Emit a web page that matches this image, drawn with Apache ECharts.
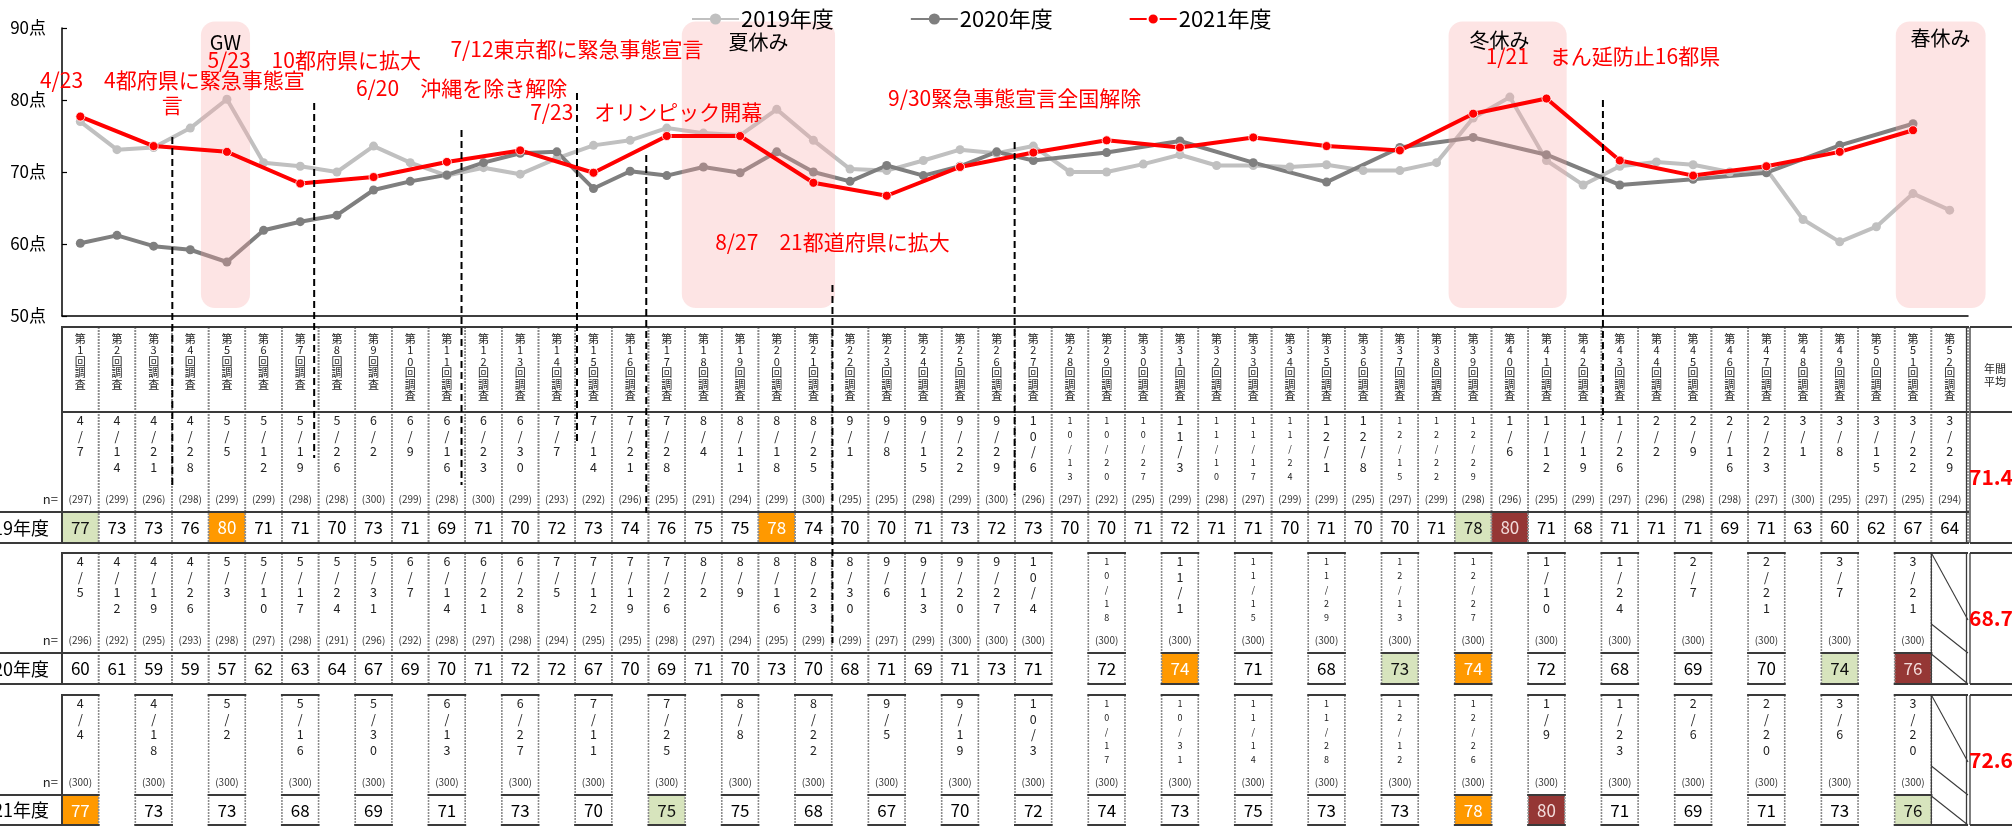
<!DOCTYPE html>
<html><head><meta charset="utf-8">
<script src="https://cdn.jsdelivr.net/npm/echarts@6/dist/echarts.min.js"></script>
<style>html,body{margin:0;padding:0;background:#fff;overflow:hidden}#c{width:2012px;height:827px}</style>
</head><body><div id="c"></div>
<script>
// ---------------- DATA ----------------
const surveyNos = [1,2,3,4,5,6,7,8,9,10,11,12,13,14,15,16,17,18,19,20,21,22,23,24,25,26,27,28,29,30,31,32,33,34,35,36,37,38,39,40,41,42,43,44,45,46,47,48,49,50,51,52];
const categories = surveyNos.map(n => '第' + n + '回調査');
const seriesNames = ['2019年度', '2020年度', '2021年度'];
const yTicks = [50, 60, 70, 80, 90];

const dates2019 = ['4/7','4/14','4/21','4/28','5/5','5/12','5/19','5/26','6/2','6/9',
  '6/16','6/23','6/30','7/7','7/14','7/21','7/28','8/4','8/11','8/18',
  '8/25','9/1','9/8','9/15','9/22','9/29','10/6','10/13','10/20','10/27',
  '11/3','11/10','11/17','11/24','12/1','12/8','12/15','12/22','12/29','1/6',
  '1/12','1/19','1/26','2/2','2/9','2/16','2/23','3/1','3/8','3/15',
  '3/22','3/29'];
const n2019 = [297,299,296,298,299,299,298,298,300,299,
  298,300,299,293,292,296,295,291,294,299,
  300,295,295,298,299,300,296,297,292,295,
  299,298,297,299,299,295,297,299,298,296,
  295,299,297,296,298,298,297,300,295,297,
  295,294];
const table2019 = [77,73,73,76,80,71,71,70,73,71,
  69,71,70,72,73,74,76,75,75,78,
  74,70,70,71,73,72,73,70,70,71,
  72,71,71,70,71,70,70,71,78,80,
  71,68,71,71,71,69,71,63,60,62,
  67,64];
const line2019 = [77.0,73.1,73.4,76.1,80.1,71.3,70.8,70.0,73.6,71.3,
  69.5,70.6,69.7,71.9,73.7,74.4,76.1,75.4,75.1,78.7,
  74.4,70.4,70.2,71.6,73.1,72.6,73.6,70.0,70.0,71.1,
  72.4,70.9,70.9,70.7,71.0,70.2,70.2,71.3,77.5,80.4,
  71.6,68.2,70.8,71.4,71.0,70.0,70.4,63.4,60.3,62.4,
  67.0,64.7];
const marks2019 = {0:'3rd', 4:'2nd', 19:'2nd', 38:'3rd', 39:'1st'};

const dates2020 = ['4/5','4/12','4/19','4/26','5/3','5/10','5/17','5/24','5/31','6/7',
  '6/14','6/21','6/28','7/5','7/12','7/19','7/26','8/2','8/9','8/16',
  '8/23','8/30','9/6','9/13','9/20','9/27','10/4',null,'10/18',null,
  '11/1',null,'11/15',null,'11/29',null,'12/13',null,'12/27',null,
  '1/10',null,'1/24',null,'2/7',null,'2/21',null,'3/7',null,
  '3/21',null];
const n2020 = [296,292,295,293,298,297,298,291,296,292,
  298,297,298,294,295,295,298,297,294,295,
  299,299,297,299,300,300,300,null,300,null,
  300,null,300,null,300,null,300,null,300,null,
  300,null,300,null,300,null,300,null,300,null,
  300,null];
const table2020 = [60,61,59,59,57,62,63,64,67,69,
  70,71,72,72,67,70,69,71,70,73,
  70,68,71,69,71,73,71,null,72,null,
  74,null,71,null,68,null,73,null,74,null,
  72,null,68,null,69,null,70,null,74,null,
  76,null];
const line2020 = [60.1,61.2,59.7,59.2,57.5,61.9,63.1,64.0,67.5,68.7,
  69.6,71.3,72.6,72.8,67.7,70.1,69.5,70.7,69.9,72.8,
  70.0,68.7,70.9,69.5,70.8,72.8,71.6,null,72.7,null,
  74.3,null,71.3,null,68.6,null,73.4,null,74.8,null,
  72.4,null,68.2,null,69.0,null,69.9,null,73.7,null,
  76.7,null];
const marks2020 = {30:'2nd', 36:'3rd', 38:'2nd', 48:'3rd', 50:'1st'};

const dates2021 = ['4/4',null,'4/18',null,'5/2',null,'5/16',null,'5/30',null,
  '6/13',null,'6/27',null,'7/11',null,'7/25',null,'8/8',null,
  '8/22',null,'9/5',null,'9/19',null,'10/3',null,'10/17',null,
  '10/31',null,'11/14',null,'11/28',null,'12/12',null,'12/26',null,
  '1/9',null,'1/23',null,'2/6',null,'2/20',null,'3/6',null,
  '3/20',null];
const n2021 = [300,null,300,null,300,null,300,null,300,null,
  300,null,300,null,300,null,300,null,300,null,
  300,null,300,null,300,null,300,null,300,null,
  300,null,300,null,300,null,300,null,300,null,
  300,null,300,null,300,null,300,null,300,null,
  300,null];
const table2021 = [77,null,73,null,73,null,68,null,69,null,
  71,null,73,null,70,null,75,null,75,null,
  68,null,67,null,70,null,72,null,74,null,
  73,null,75,null,73,null,73,null,78,null,
  80,null,71,null,69,null,71,null,73,null,
  76,null];
const line2021 = [77.7,null,73.6,null,72.8,null,68.4,null,69.3,null,
  71.4,null,73.0,null,69.9,null,75.0,null,75.0,null,
  68.5,null,66.7,null,70.7,null,72.7,null,74.4,null,
  73.4,null,74.8,null,73.6,null,73.0,null,78.1,null,
  80.2,null,71.6,null,69.5,null,70.8,null,72.8,null,
  75.8,null];
const marks2021 = {0:'2nd', 16:'3rd', 38:'2nd', 40:'1st', 50:'3rd'};

const annualAvg = ['71.4', '68.7', '72.6'];
const seasonLabels = ['GW', '夏休み', '冬休み', '春休み'];
const eventLabels = ['4/23　4都府県に緊急事態宣\n言', '5/23　10都府県に拡大', '6/20　沖縄を除き解除',
  '7/12東京都に緊急事態宣言', '7/23　オリンピック開幕', '8/27　21都道府県に拡大',
  '9/30緊急事態宣言全国解除', '1/21　まん延防止16都県'];

// ---------------- LAYOUT / STYLE ----------------
const FONT = '"Noto Sans CJK JP","Noto Sans",sans-serif';
const DARK = '#3a3a3a';
const DOT = '#8c8c8c';
const MARK_FILL = {'1st':'#953735', '2nd':'#ff9900', '3rd':'#d7e4bd'};
const MARK_TEXT = {'1st':'#f2dcdb', '2nd':'#ffffff', '3rd':'#111111'};
// season bands in column units (0 = left edge of first column)
const seasonLayout = [
  {from:3.79, to:5.13, lu:4.46, ly:42},
  {from:16.91, to:21.09, lu:19.0, ly:42},
  {from:37.83, to:41.05, lu:39.22, ly:40},
  {from:50.03, to:52.48, lu:51.25, ly:38}
];
const eventLayout = [
  {u:3.01, top:137, bottom:487, ty:92.5},
  {u:6.88, top:103, bottom:458, ty:60},
  {u:10.90, top:130, bottom:485, ty:88},
  {u:14.05, top:93, bottom:443, ty:49},
  {u:15.94, top:155, bottom:513, ty:112},
  {u:21.02, top:285, bottom:643, ty:242},
  {u:25.99, top:142, bottom:495, ty:98},
  {u:42.04, top:100, bottom:420, ty:56}
];
const rowLayout = [
  {header:true, headerTop:327, dateTop:412, dateBottom:512, bottom:543},
  {header:false, dateTop:553, dateBottom:653, bottom:684},
  {header:false, dateTop:695, dateBottom:795, bottom:825}
];

function line(x1, y1, x2, y2, stroke, w, dash) {
  return {type:'line', shape:{x1, y1, x2, y2}, style:{stroke, lineWidth:w, lineDash:dash || null}, silent:true};
}
function txt(text, x, y, opt) {
  return {type:'text', silent:true, style:Object.assign({text, x, y, align:'center', verticalAlign:'middle',
    fill:'#000', fontFamily:FONT, fontSize:12}, opt || {})};
}
function vert(s) { return String(s).split('').join('\n'); }

function makeTableRenderer(rowIdx, dates, ns, vals, marks) {
  const L = rowLayout[rowIdx];
  return function (params, api) {
    const idx = api.value(0);
    const band = api.size([1, 0])[0];
    const cx = api.coord([idx, 70])[0];
    const x0 = cx - band / 2, x1 = cx + band / 2;
    const ch = [];
    const top = L.header ? L.headerTop : L.dateTop;
    const last = idx === categories.length - 1;
    if (dates[idx] != null) {
      const mk = marks[idx];
      if (mk) ch.push({type:'rect', shape:{x:x0, y:L.dateBottom, width:band, height:L.bottom - L.dateBottom}, style:{fill:MARK_FILL[mk]}, silent:true});
      ch.push(line(x0, top, x0, L.bottom, idx === 0 ? DARK : DOT, idx === 0 ? 2 : 1.6, idx === 0 ? null : [2, 1]));
      ch.push(line(x1, top, x1, L.bottom, DOT, 1.6, [2, 1]));
      ch.push(line(x0 - 1, top, x1 + 1, top, DARK, 2.2));
      if (L.header) ch.push(line(x0 - 1, L.dateTop, x1 + 1, L.dateTop, DARK, 2.2));
      ch.push(line(x0 - 1, L.dateBottom, x1 + 1, L.dateBottom, DARK, 2.2));
      ch.push(line(x0 - 1, L.bottom, x1 + 1, L.bottom, DARK, 2.2));
      if (L.header) ch.push(txt(vert(categories[idx]), cx, L.headerTop + 6, {verticalAlign:'top', fontSize:11, lineHeight:11.5, fill:'#222'}));
      const d = dates[idx];
      const small = d.length >= 5;
      ch.push(txt(vert(d), cx, L.dateTop + (small ? 1 : 0.5), {verticalAlign:'top', fontSize: small ? 9 : 12.5, lineHeight: small ? 14.2 : 15.5, fill:'#222'}));
      ch.push(txt('(' + ns[idx] + ')', cx, L.dateTop + 87, {fontSize:10, fill:'#333'}));
      const mk2 = marks[idx];
      ch.push(txt(String(vals[idx]), cx, (L.dateBottom + L.bottom) / 2 + 0.5, {fontSize:17, fill: mk2 ? MARK_TEXT[mk2] : '#000'}));
    } else if (last) {
      const T = L.dateTop, D = L.dateBottom, B = L.bottom;
      ch.push(line(x0, T, x1, T, DARK, 2.2));
      ch.push(line(x0, B, x1, B, DARK, 2.2));
      ch.push(line(x0, T, x0, B, DARK, 1.2));
      ch.push(line(x0, T, x1, T + 67, DARK, 1.1));
      ch.push(line(x0, T + 71, x1, D, DARK, 1.1));
      ch.push(line(x0, D + 1, x1, B, DARK, 1.1));
    }
    if (last) {
      ch.push(line(x1 - 1.5, top, x1 - 1.5, L.bottom, DARK, 1.3));
      ch.push(line(x1 + 2, top, x1 + 2, L.bottom, DARK, 1.3));
      ch.push(line(x1 + 2, top, x1 + 80, top, DARK, 2.2));
      ch.push(line(x1 + 2, L.bottom, x1 + 80, L.bottom, DARK, 2.2));
      if (L.header) {
        ch.push(line(x1 + 2, L.dateTop, x1 + 80, L.dateTop, DARK, 2.2));
        ch.push(txt('年間\n平均', x1 + 27, (L.headerTop + L.dateTop) / 2 + 6, {fontSize:11, lineHeight:13, fill:'#222'}));
      }
      ch.push(txt(annualAvg[rowIdx], x1 + 23, (L.dateTop + L.bottom) / 2, {fontSize:21, fontWeight:'bold', fill:'#ff0000'}));
    }
    return {type:'group', children:ch};
  };
}
function rowData(dates) {
  const out = [];
  dates.forEach((d, i) => { if (d != null || i === dates.length - 1) out.push([i, 70]); });
  return out;
}

const chart = echarts.init(document.getElementById('c'), null, {renderer:'canvas'});
const lineCommon = {type:'line', symbol:'circle', symbolSize:9, connectNulls:true, silent:true};
const option = {
  animation:false,
  textStyle:{fontFamily:FONT},
  legend:{
    data:seriesNames, left:686, top:3, itemWidth:47, itemHeight:14, itemGap:76,
    textStyle:{fontSize:22, color:'#000', fontFamily:FONT, padding:[0,0,0,-3]}
  },
  grid:{left:62, right:44, top:28, bottom:827 - 316},
  xAxis:{type:'category', data:categories, boundaryGap:true,
    axisLine:{lineStyle:{color:'#000', width:1.5}}, axisTick:{show:false}, axisLabel:{show:false}, splitLine:{show:false}},
  yAxis:{type:'value', min:yTicks[0], max:yTicks[yTicks.length - 1], interval:10,
    axisLine:{show:true, lineStyle:{color:'#000', width:1.5}},
    axisTick:{show:true, inside:true, length:5, lineStyle:{color:'#000', width:1.2}},
    axisLabel:{formatter:'{value}点', fontSize:17, color:'#000', margin:16, fontFamily:FONT},
    splitLine:{show:false}},
  series:[
    Object.assign({}, lineCommon, {name:seriesNames[0], data:line2019, z:2,
      lineStyle:{color:'#c0c0c0', width:4}, itemStyle:{color:'#c0c0c0'}}),
    Object.assign({}, lineCommon, {name:seriesNames[1], data:line2020, z:2,
      lineStyle:{color:'#7f7f7f', width:4}, itemStyle:{color:'#7f7f7f'}}),
    {type:'custom', name:'seasons', z:3, silent:true, clip:false,
      data:seasonLabels.map(() => [0, 70]),
      renderItem:function (params, api) {
        const s = seasonLayout[params.dataIndex];
        const band = api.size([1, 0])[0];
        const c0 = api.coord([0, 70])[0] - band / 2;
        const yTop = api.coord([0, 90.9])[1], yBot = api.coord([0, 51.1])[1];
        const xa = c0 + s.from * band, xb = c0 + s.to * band;
        return {type:'group', children:[
          {type:'rect', shape:{x:xa, y:yTop, width:xb - xa, height:yBot - yTop, r:14}, style:{fill:'rgba(248,165,165,0.3)'}},
          txt(seasonLabels[params.dataIndex], c0 + s.lu * band, s.ly, {fontSize:20, fill:'#000'})
        ]};
      }},
    Object.assign({}, lineCommon, {name:seriesNames[2], data:line2021, z:4,
      lineStyle:{color:'#ff0000', width:4}, itemStyle:{color:'#ff0000', borderColor:'#ffffff', borderWidth:0.8}}),
    {type:'custom', name:'events', z:6, silent:true, clip:false,
      data:eventLabels.map(() => [0, 70]),
      renderItem:function (params, api) {
        const e = eventLayout[params.dataIndex];
        const band = api.size([1, 0])[0];
        const c0 = api.coord([0, 70])[0] - band / 2;
        const x = c0 + e.u * band;
        return {type:'group', children:[
          line(x, e.top, x, e.bottom, '#000', 2, [7, 4]),
          txt(eventLabels[params.dataIndex], x, e.ty, {fontSize:21, lineHeight:25, fill:'#ff0000'})
        ]};
      }},
    {type:'custom', name:'t2019', z:5, silent:true, clip:false, data:rowData(dates2019),
      renderItem:makeTableRenderer(0, dates2019, n2019, table2019, marks2019)},
    {type:'custom', name:'t2020', z:5, silent:true, clip:false, data:rowData(dates2020),
      renderItem:makeTableRenderer(1, dates2020, n2020, table2020, marks2020)},
    {type:'custom', name:'t2021', z:5, silent:true, clip:false, data:rowData(dates2021),
      renderItem:makeTableRenderer(2, dates2021, n2021, table2021, marks2021)}
  ],
  graphic:[]
};
chart.setOption(option);

const g = [];
rowLayout.forEach((L, i) => {
  g.push({type:'line', shape:{x1:0, y1:L.dateBottom, x2:62, y2:L.dateBottom}, style:{stroke:DARK, lineWidth:2.2}, z:10});
  g.push({type:'line', shape:{x1:0, y1:L.bottom, x2:62, y2:L.bottom}, style:{stroke:DARK, lineWidth:2.2}, z:10});
  g.push({type:'text', style:{text:seriesNames[i], x:49, y:(L.dateBottom + L.bottom) / 2 + 0.5, align:'right', verticalAlign:'middle', fontSize:18, fontFamily:FONT, fill:'#000'}, z:10});
  g.push({type:'text', style:{text:'n=', x:58, y:L.dateTop + 87, align:'right', verticalAlign:'middle', fontSize:13, fontFamily:FONT, fill:'#222'}, z:10});
});
chart.setOption({graphic:g});
</script>
</body></html>
